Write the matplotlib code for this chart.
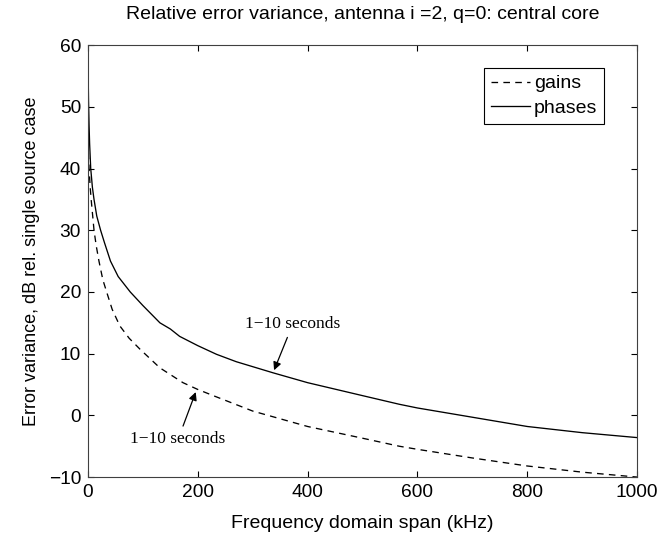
import matplotlib
matplotlib.use('Agg')
import matplotlib.pyplot as plt

# values (kHz, dB)
phase_khz = [0.3, 1, 2, 3, 5, 8, 11, 16, 23, 30, 41, 55, 77, 100, 131, 150, 167,
             200, 234, 270, 337, 400, 500, 567, 600, 700, 800, 900, 1000]
phase_db = [55.4, 51, 47, 44, 40, 37, 35, 32.3, 30, 28, 25, 22.5, 20, 17.8, 15.0,
            14, 12.8, 11.3, 9.9, 8.7, 6.9, 5.3, 3.2, 1.8, 1.2, -0.3, -1.8, -2.8, -3.6]

gain_khz = [0.5, 1, 2, 4, 6, 11, 15, 20, 27, 34, 44, 58, 75, 95, 131, 173, 200,
            231, 300, 400, 500, 567, 600, 700, 800, 900, 1000]
gain_db = [44.5, 42, 40, 37, 34.8, 30, 27.5, 25, 22, 20, 17.2, 14.5, 12.5, 10.7,
           7.7, 5.3, 4.2, 3.1, 0.7, -1.8, -3.7, -5.0, -5.5, -6.9, -8.2, -9.2, -10.0]

x_ticks = [0, 200, 400, 600, 800, 1000]
y_ticks = [-10, 0, 10, 20, 30, 40, 50, 60]

plt.rcParams['font.family'] = ['Liberation Sans', 'DejaVu Sans']

fig = plt.figure(figsize=(6.6, 5.44), dpi=100)
ax = fig.add_axes([0.1333, 0.123, 0.832, 0.794])

ax.plot(gain_khz, gain_db, color='black', linestyle=(0, (5, 4)), linewidth=0.95, label='gains')
ax.plot(phase_khz, phase_db, color='black', linestyle='-', linewidth=0.95, label='phases')

ax.set_xlim(0, 1000)
ax.set_ylim(-10, 60)
ax.set_xticks(x_ticks)
ax.set_yticks(y_ticks)
ax.set_yticklabels(['\u221210' if t == -10 else str(t) for t in y_ticks])
ax.tick_params(direction='in', length=4, width=0.8, top=True, right=True,
               labelsize=13.8, pad=5)
for sp in ax.spines.values():
    sp.set_linewidth(0.8)
    sp.set_color('#404040')

ax.set_title('Relative error variance, antenna i =2, q=0: central core',
             fontsize=14, pad=19)
ax.set_xlabel('Frequency domain span (kHz)', fontsize=14, labelpad=10)
ax.set_ylabel('Error variance, dB rel. single source case', fontsize=13, labelpad=6)

# annotations
arrow = dict(arrowstyle='-|>', color='black', linewidth=0.9, mutation_scale=12)
ax.annotate('1\u221210 seconds', xy=(337, 6.9), xytext=(373, 14.8),
            ha='center', va='center', fontsize=12.5, family='Liberation Serif',
            arrowprops=arrow)
ax.annotate('1\u221210 seconds', xy=(198, 4.2), xytext=(164, -3.9),
            ha='center', va='center', fontsize=12.5, family='Liberation Serif',
            arrowprops=arrow)

leg = ax.legend(loc='upper right', bbox_to_anchor=(0.94, 0.947), borderaxespad=0,
                fontsize=14, handlelength=2.0, handletextpad=0.2, borderpad=0.35,
                labelspacing=0.35, fancybox=False, framealpha=1)
leg.get_frame().set_edgecolor('black')
leg.get_frame().set_linewidth(0.8)

fig.savefig('out.png', dpi=100)
